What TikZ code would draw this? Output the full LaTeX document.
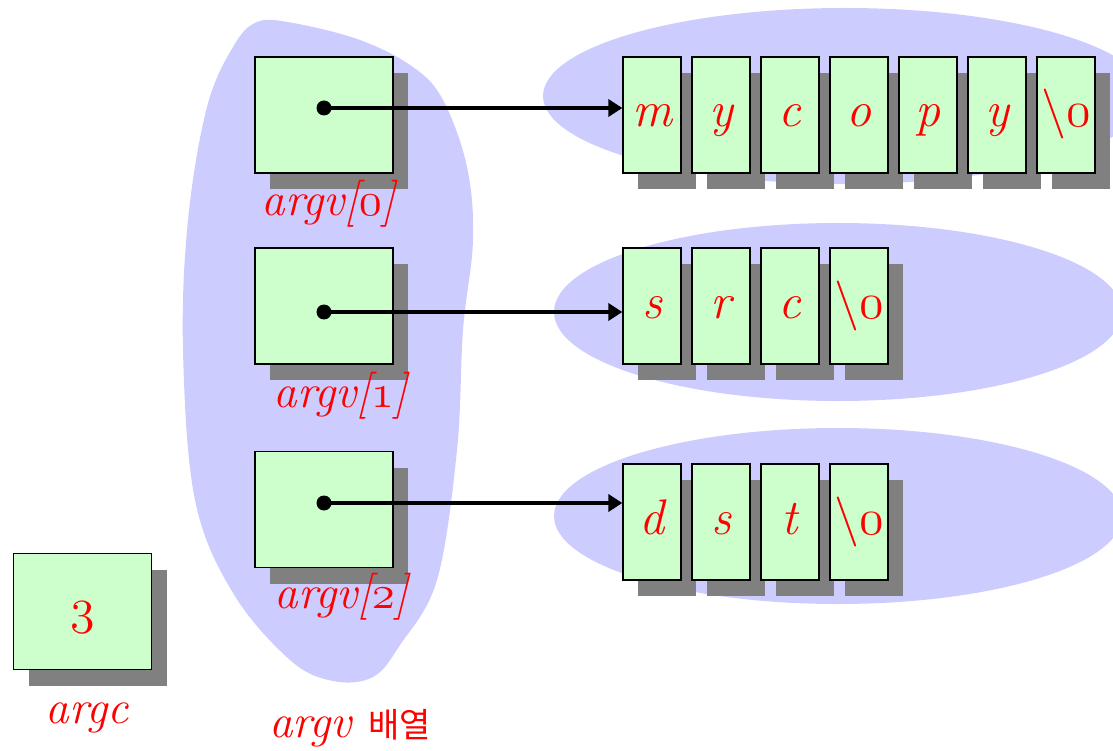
\RequirePackage{fix-cm}
\documentclass[tikz,border=0pt]{standalone}
\usepackage{fontspec}
\newfontfamily\krfont{Noto Sans CJK KR}
\usetikzlibrary{arrows.meta,shadows}
\definecolor{blobc}{HTML}{CCCCFF}
\definecolor{boxg}{HTML}{CCFFCC}
\definecolor{shadg}{HTML}{808080}
\newcommand{\osd}[1]{{\fontencoding{OML}\fontfamily{cmm}\fontseries{m}\fontshape{it}\selectfont #1}}
\newcommand{\bsz}{{\upshape\textbackslash}\osd{0}}
\begin{document}
\begin{tikzpicture}[x=1pt,y=-1pt,
 cell/.style={draw=black, line width=1.3pt, fill=boxg, inner sep=0pt,
   general shadow={fill=shadg, shadow xshift=15pt, shadow yshift=-16pt},
   text=red, font=\fontsize{50}{50}\selectfont\itshape, text height=24pt, text depth=0pt},
 ptrbox/.style={cell, minimum width=138pt, minimum height=116pt},
 charbox/.style={cell, minimum width=58pt, minimum height=116pt},
 lbl/.style={text=red, font=\fontsize{47}{50}\selectfont\itshape, inner sep=0pt, anchor=base},
 dotnode/.style={circle, fill=black, minimum size=15pt, inner sep=0pt},
 ptr/.style={line width=3.5pt, -{Triangle[length=14pt,width=17pt]}},
 bg/.style={fill=blobc}]
\clip (0,0) rectangle (1113,751);
% background shapes
\fill[bg] plot[smooth cycle, tension=0.6] coordinates {(257,22) (293,23) (360,40) (413,67) (443,100) (467,167) (473,240) (463,330) (457,450) (437,580) (400,645) (373,677) (333,681) (290,660) (233,593) (195,500) (183,350) (188,220) (207,107) (233,47)};
\fill[bg] (845,96) ellipse [x radius=302, y radius=88];
\fill[bg] (838,312) ellipse [x radius=284, y radius=89];
\fill[bg] (838,516) ellipse [x radius=284, y radius=88];
% pointer boxes
\node[ptrbox] (a0) at (324,115) {};
\node[ptrbox] (a1) at (324,306) {};
\node[ptrbox] (a2) at (324,509.5) {};
\node[ptrbox] (argc) at (82.5,611.5) {\osd{3}};
% character boxes
\foreach \ch [count=\i from 0] in {m,y,c,o,p,y,\bsz}
  \node[charbox] (r1c\i) at (652+69*\i,115) {\ch};
\foreach \ch [count=\i from 0] in {s,r,c,\bsz}
  \node[charbox] (r2c\i) at (652+69*\i,306) {\ch};
\foreach \ch [count=\i from 0] in {d,s,t,\bsz}
  \node[charbox] (r3c\i) at (652+69*\i,522) {\ch};
% dots and arrows
\node[dotnode] (d0) at (324,108) {};
\node[dotnode] (d1) at (324,312) {};
\node[dotnode] (d2) at (324,503) {};
\draw[ptr] (d0.center) -- (r1c0.west |- d0.center);
\draw[ptr] (d1.center) -- (r2c0.west |- d1.center);
\draw[ptr] (d2.center) -- (r3c0.west |- d2.center);
% labels
\node[lbl] (l0) at (329,216) {argv[\osd{0}]};
\node[lbl] (l1) at (341,407) {argv[\osd{1}]};
\node[lbl] (l2) at (342,608) {argv[\osd{2}]};
\node[lbl] (lc) at (87,723) {argc};
\node[lbl] (lv) at (350,737) {argv {\krfont\upshape\fontsize{34}{40}\selectfont 배열}};
\end{tikzpicture}
\end{document}
